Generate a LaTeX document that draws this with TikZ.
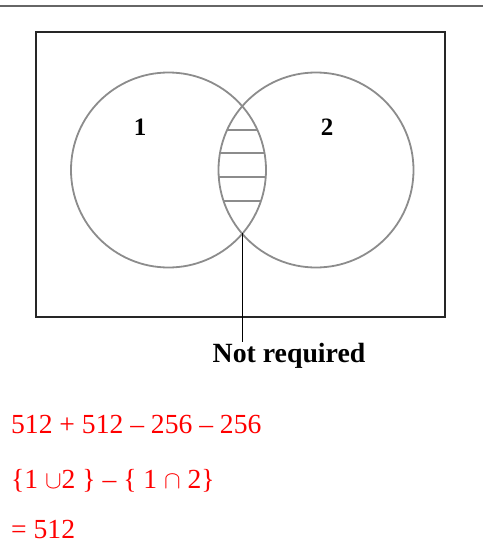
\documentclass[tikz,border=0pt]{standalone}
\usepackage{fontspec}
\setmainfont{Liberation Serif}
\begin{document}
\begin{tikzpicture}[x=1pt,y=-1pt,
  setcircle/.style={draw=black!45,line width=1.8pt},
  hatch/.style={draw=black!45,line width=1.6pt},
  frame/.style={draw=black!85,line width=1.3pt},
  redtext/.style={text=red,anchor=base west,inner sep=0pt,font=\fontsize{27.6}{30}\selectfont},
  lab/.style={font=\bfseries\fontsize{25}{28}\selectfont,inner sep=0pt}]
\useasboundingbox (0,0) rectangle (483,557);
% top rule
\draw[draw=black!60,line width=2pt] (0,6) -- (483,6);
% frame
\draw[frame] (36,32) rectangle (445,317);
% circles
\coordinate (c1) at (168.5,170);
\coordinate (c2) at (316,170);
\draw[setcircle] (c1) circle[radius=97.5];
\draw[setcircle] (c2) circle[radius=97.5];
% hatch in lens
\begin{scope}
  \clip (c1) circle[radius=97.5];
  \clip (c2) circle[radius=97.5];
  \foreach \yy in {130,153,177,201} \draw[hatch] (200,\yy) -- (290,\yy);
\end{scope}
% labels
\node[lab] (n1) at (140,127) {1};
\node[lab] (n2) at (327,127) {2};
% bottom intersection and pointer
\coordinate (ib) at (242,233);
\node[font=\bfseries\fontsize{27.8}{30}\selectfont,anchor=base,inner sep=0pt] (nr) at (289,362) {Not required};
\coordinate (lineend) at (242,342);
\draw[black,line width=1pt] (ib) -- (lineend);
% red text
\node[redtext] (t1) at (11,433) {512 + 512 – 256 – 256};
\node[redtext] (t2) at (11,488) {\{1 $\cup$2 \} – \{ 1 $\cap$ 2\}};
\node[redtext] (t3) at (11,538) {= 512};
\end{tikzpicture}
\end{document}
